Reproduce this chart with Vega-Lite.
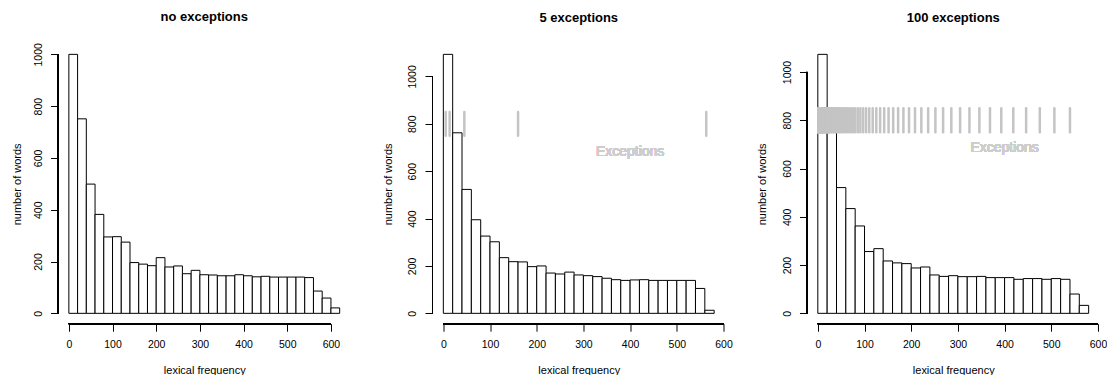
{
  "$schema": "https://vega.github.io/schema/vega-lite/v6.json",
  "background": "white",
  "padding": {"left": 11, "top": 11, "right": 0, "bottom": 0},
  "bounds": "flush",
  "spacing": 81.5,
  "datasets": {
    "p1": [
      {"start": 0, "end": 20, "count": 1000}, {"start": 20, "end": 40, "count": 751}, {"start": 40, "end": 60, "count": 499},
      {"start": 60, "end": 80, "count": 382}, {"start": 80, "end": 100, "count": 295}, {"start": 100, "end": 120, "count": 296},
      {"start": 120, "end": 140, "count": 275}, {"start": 140, "end": 160, "count": 196}, {"start": 160, "end": 180, "count": 190},
      {"start": 180, "end": 200, "count": 184}, {"start": 200, "end": 220, "count": 215}, {"start": 220, "end": 240, "count": 179},
      {"start": 240, "end": 260, "count": 183}, {"start": 260, "end": 280, "count": 153}, {"start": 280, "end": 300, "count": 166},
      {"start": 300, "end": 320, "count": 149}, {"start": 320, "end": 340, "count": 148}, {"start": 340, "end": 360, "count": 145},
      {"start": 360, "end": 380, "count": 145}, {"start": 380, "end": 400, "count": 149}, {"start": 400, "end": 420, "count": 145},
      {"start": 420, "end": 440, "count": 141}, {"start": 440, "end": 460, "count": 143}, {"start": 460, "end": 480, "count": 140},
      {"start": 480, "end": 500, "count": 140}, {"start": 500, "end": 520, "count": 140}, {"start": 520, "end": 540, "count": 140},
      {"start": 540, "end": 560, "count": 138}, {"start": 560, "end": 580, "count": 86}, {"start": 580, "end": 600, "count": 59},
      {"start": 600, "end": 620, "count": 21}
    ],
    "p2": [
      {"start": 0, "end": 20, "count": 1093}, {"start": 20, "end": 40, "count": 762}, {"start": 40, "end": 60, "count": 523},
      {"start": 60, "end": 80, "count": 395}, {"start": 80, "end": 100, "count": 326}, {"start": 100, "end": 120, "count": 302},
      {"start": 120, "end": 140, "count": 235}, {"start": 140, "end": 160, "count": 218}, {"start": 160, "end": 180, "count": 217},
      {"start": 180, "end": 200, "count": 197}, {"start": 200, "end": 220, "count": 200}, {"start": 220, "end": 240, "count": 170},
      {"start": 240, "end": 260, "count": 166}, {"start": 260, "end": 280, "count": 174}, {"start": 280, "end": 300, "count": 162},
      {"start": 300, "end": 320, "count": 159}, {"start": 320, "end": 340, "count": 155}, {"start": 340, "end": 360, "count": 148},
      {"start": 360, "end": 380, "count": 142}, {"start": 380, "end": 400, "count": 139}, {"start": 400, "end": 420, "count": 141},
      {"start": 420, "end": 440, "count": 142}, {"start": 440, "end": 460, "count": 139}, {"start": 460, "end": 480, "count": 139},
      {"start": 480, "end": 500, "count": 139}, {"start": 500, "end": 520, "count": 139}, {"start": 520, "end": 540, "count": 139},
      {"start": 540, "end": 560, "count": 105}, {"start": 560, "end": 580, "count": 13}
    ],
    "p3": [
      {"start": 0, "end": 20, "count": 1073}, {"start": 20, "end": 40, "count": 780}, {"start": 40, "end": 60, "count": 521},
      {"start": 60, "end": 80, "count": 434}, {"start": 80, "end": 100, "count": 362}, {"start": 100, "end": 120, "count": 256},
      {"start": 120, "end": 140, "count": 268}, {"start": 140, "end": 160, "count": 217}, {"start": 160, "end": 180, "count": 209},
      {"start": 180, "end": 200, "count": 206}, {"start": 200, "end": 220, "count": 188}, {"start": 220, "end": 240, "count": 192},
      {"start": 240, "end": 260, "count": 159}, {"start": 260, "end": 280, "count": 153}, {"start": 280, "end": 300, "count": 156},
      {"start": 300, "end": 320, "count": 152}, {"start": 320, "end": 340, "count": 152}, {"start": 340, "end": 360, "count": 153},
      {"start": 360, "end": 380, "count": 148}, {"start": 380, "end": 400, "count": 148}, {"start": 400, "end": 420, "count": 148},
      {"start": 420, "end": 440, "count": 141}, {"start": 440, "end": 460, "count": 144}, {"start": 460, "end": 480, "count": 144},
      {"start": 480, "end": 500, "count": 141}, {"start": 500, "end": 520, "count": 144}, {"start": 520, "end": 540, "count": 141},
      {"start": 540, "end": 560, "count": 80}, {"start": 560, "end": 580, "count": 33}
    ],
    "ex2": [{"value": 5}, {"value": 13.5}, {"value": 45}, {"value": 160}, {"value": 563}],
    "ex3": [
      {"value": 1}, {"value": 1.07}, {"value": 1.14}, {"value": 1.21}, {"value": 1.29}, {"value": 1.37}, {"value": 1.46}, {"value": 1.56}, {"value": 1.66}, {"value": 1.77},
      {"value": 1.89}, {"value": 2.01}, {"value": 2.14}, {"value": 2.28}, {"value": 2.43}, {"value": 2.59}, {"value": 2.76}, {"value": 2.95}, {"value": 3.14}, {"value": 3.34},
      {"value": 3.56}, {"value": 3.8}, {"value": 4.05}, {"value": 4.31}, {"value": 4.6}, {"value": 4.9}, {"value": 5.22}, {"value": 5.56}, {"value": 5.93}, {"value": 6.31},
      {"value": 6.73}, {"value": 7.17}, {"value": 7.64}, {"value": 8.14}, {"value": 8.68}, {"value": 9.25}, {"value": 9.85}, {"value": 10.5}, {"value": 11.2}, {"value": 11.9},
      {"value": 12.7}, {"value": 13.5}, {"value": 14.4}, {"value": 15.4}, {"value": 16.4}, {"value": 17.5}, {"value": 18.6}, {"value": 19.8}, {"value": 21.1}, {"value": 22.5},
      {"value": 24}, {"value": 25.6}, {"value": 27.2}, {"value": 29}, {"value": 30.9}, {"value": 33}, {"value": 35.1}, {"value": 37.4}, {"value": 39.9}, {"value": 42.5},
      {"value": 45.3}, {"value": 48.2}, {"value": 51.4}, {"value": 54.8}, {"value": 58.4}, {"value": 62.2}, {"value": 66.3}, {"value": 70.6}, {"value": 75.3}, {"value": 80.2},
      {"value": 85.5}, {"value": 91.1}, {"value": 97.1}, {"value": 103.4}, {"value": 110.2}, {"value": 117.5}, {"value": 125.2}, {"value": 133.4}, {"value": 142.1}, {"value": 151.5},
      {"value": 161.4}, {"value": 172}, {"value": 183.3}, {"value": 195.3}, {"value": 208.1}, {"value": 221.7}, {"value": 236.3}, {"value": 251.8}, {"value": 268.3}, {"value": 285.9},
      {"value": 304.7}, {"value": 324.7}, {"value": 346}, {"value": 368.7}, {"value": 392.9}, {"value": 418.6}, {"value": 446.1}, {"value": 475.4}, {"value": 506.6}, {"value": 540}
    ]
  },
  "hconcat": [
    {
      "width": 292.5, "height": 279.7,
      "title": "no exceptions",
      "data": {"name": "p1"},
      "layer": [
        {
          "mark": {"type": "rect", "fill": "white", "stroke": "black", "strokeWidth": 1},
          "encoding": {
            "x": {"field": "start", "type": "quantitative", "scale": {"domain": [-24.8, 644.8], "nice": false, "zero": false}, "axis": {"values": [0, 100, 200, 300, 400, 500, 600], "title": "lexical frequency", "format": "d"}},
            "x2": {"field": "end"},
            "y": {"field": "count", "type": "quantitative", "scale": {"domain": [-40, 1040], "nice": false, "zero": false}, "axis": {"values": [0, 200, 400, 600, 800, 1000], "title": "number of words", "format": "d", "titlePadding": 11}},
            "y2": {"datum": 0}
          }
        },
        {
          "mark": {"type": "rule", "color": "black", "strokeWidth": 1},
          "encoding": {"x": {"datum": 0, "type": "quantitative"}, "x2": {"datum": 600}, "y": {"datum": -40, "type": "quantitative"}}
        },
        {
          "mark": {"type": "rule", "color": "black", "strokeWidth": 1},
          "encoding": {"x": {"datum": -24.8, "type": "quantitative"}, "y": {"datum": 0, "type": "quantitative"}, "y2": {"datum": 1000}}
        }
      ]
    },
    {
      "width": 292.5, "height": 279.7,
      "title": "5 exceptions",
      "data": {"name": "p2"},
      "layer": [
        {
          "mark": {"type": "rect", "fill": "white", "stroke": "black", "strokeWidth": 1},
          "encoding": {
            "x": {"field": "start", "type": "quantitative", "scale": {"domain": [-23.2, 603.2], "nice": false, "zero": false}, "axis": {"values": [0, 100, 200, 300, 400, 500, 600], "title": "lexical frequency", "format": "d"}},
            "x2": {"field": "end"},
            "y": {"field": "count", "type": "quantitative", "scale": {"domain": [-43.72, 1136.72], "nice": false, "zero": false}, "axis": {"values": [0, 200, 400, 600, 800, 1000], "title": "number of words", "format": "d", "titlePadding": 14.5}},
            "y2": {"datum": 0}
          }
        },
        {
          "mark": {"type": "rule", "color": "black", "strokeWidth": 1},
          "encoding": {"x": {"datum": 0, "type": "quantitative"}, "x2": {"datum": 600}, "y": {"datum": -43.72, "type": "quantitative"}}
        },
        {
          "mark": {"type": "rule", "color": "black", "strokeWidth": 1},
          "encoding": {"x": {"datum": -23.2, "type": "quantitative"}, "y": {"datum": 0, "type": "quantitative"}, "y2": {"datum": 1000}}
        },
        {
          "data": {"name": "ex2"},
          "mark": {"type": "rule", "color": "#c4c4c4", "strokeWidth": 2.5, "strokeCap": "round"},
          "encoding": {"x": {"field": "value", "type": "quantitative"}, "y": {"datum": 750, "type": "quantitative"}, "y2": {"datum": 850}}
        },
        {
          "mark": {"type": "text", "text": "Exceptions", "fontSize": 14, "color": "#cdcdcd", "font": "Liberation Sans", "align": "center", "baseline": "middle"},
          "encoding": {"x": {"datum": 400, "type": "quantitative"}, "y": {"datum": 683, "type": "quantitative"}}
        }
      ]
    },
    {
      "width": 292.5, "height": 279.7,
      "title": "100 exceptions",
      "data": {"name": "p3"},
      "layer": [
        {
          "mark": {"type": "rect", "fill": "white", "stroke": "black", "strokeWidth": 1},
          "encoding": {
            "x": {"field": "start", "type": "quantitative", "scale": {"domain": [-23.2, 603.2], "nice": false, "zero": false}, "axis": {"values": [0, 100, 200, 300, 400, 500, 600], "title": "lexical frequency", "format": "d"}},
            "x2": {"field": "end"},
            "y": {"field": "count", "type": "quantitative", "scale": {"domain": [-42.92, 1115.92], "nice": false, "zero": false}, "axis": {"values": [0, 200, 400, 600, 800, 1000], "title": "number of words", "format": "d", "titlePadding": 14.5}},
            "y2": {"datum": 0}
          }
        },
        {
          "mark": {"type": "rule", "color": "black", "strokeWidth": 1},
          "encoding": {"x": {"datum": 0, "type": "quantitative"}, "x2": {"datum": 600}, "y": {"datum": -42.92, "type": "quantitative"}}
        },
        {
          "mark": {"type": "rule", "color": "black", "strokeWidth": 1},
          "encoding": {"x": {"datum": -23.2, "type": "quantitative"}, "y": {"datum": 0, "type": "quantitative"}, "y2": {"datum": 1000}}
        },
        {
          "data": {"name": "ex3"},
          "mark": {"type": "rule", "color": "#c4c4c4", "strokeWidth": 2.5, "strokeCap": "round"},
          "encoding": {"x": {"field": "value", "type": "quantitative"}, "y": {"datum": 750, "type": "quantitative"}, "y2": {"datum": 850}}
        },
        {
          "mark": {"type": "text", "text": "Exceptions", "fontSize": 14, "color": "#cdcdcd", "font": "Liberation Sans", "align": "center", "baseline": "middle"},
          "encoding": {"x": {"datum": 400, "type": "quantitative"}, "y": {"datum": 683, "type": "quantitative"}}
        }
      ]
    }
  ],
  "config": {
    "font": "Liberation Sans",
    "view": {"stroke": null},
    "axis": {
      "domain": false, "grid": false, "ticks": true, "tickColor": "black", "tickSize": 7.5, "tickWidth": 1,
      "labelColor": "black", "labelFont": "Liberation Sans", "labelFontSize": 10.5, "labelOverlap": false, "labelFlush": false,
      "titleFont": "Liberation Sans", "titleFontSize": 11, "titleFontWeight": "normal", "titleColor": "black"
    },
    "axisX": {"labelPadding": 8.5, "labelBaseline": "top", "labelAngle": 0, "titlePadding": 14},
    "axisY": {"labelAngle": -90, "labelAlign": "center", "labelBaseline": "alphabetic", "labelPadding": 9.3},
    "title": {"font": "Liberation Sans", "fontSize": 13, "fontWeight": "bold", "color": "black", "frame": "group", "anchor": "middle", "baseline": "alphabetic", "offset": 18.5}
  }
}
